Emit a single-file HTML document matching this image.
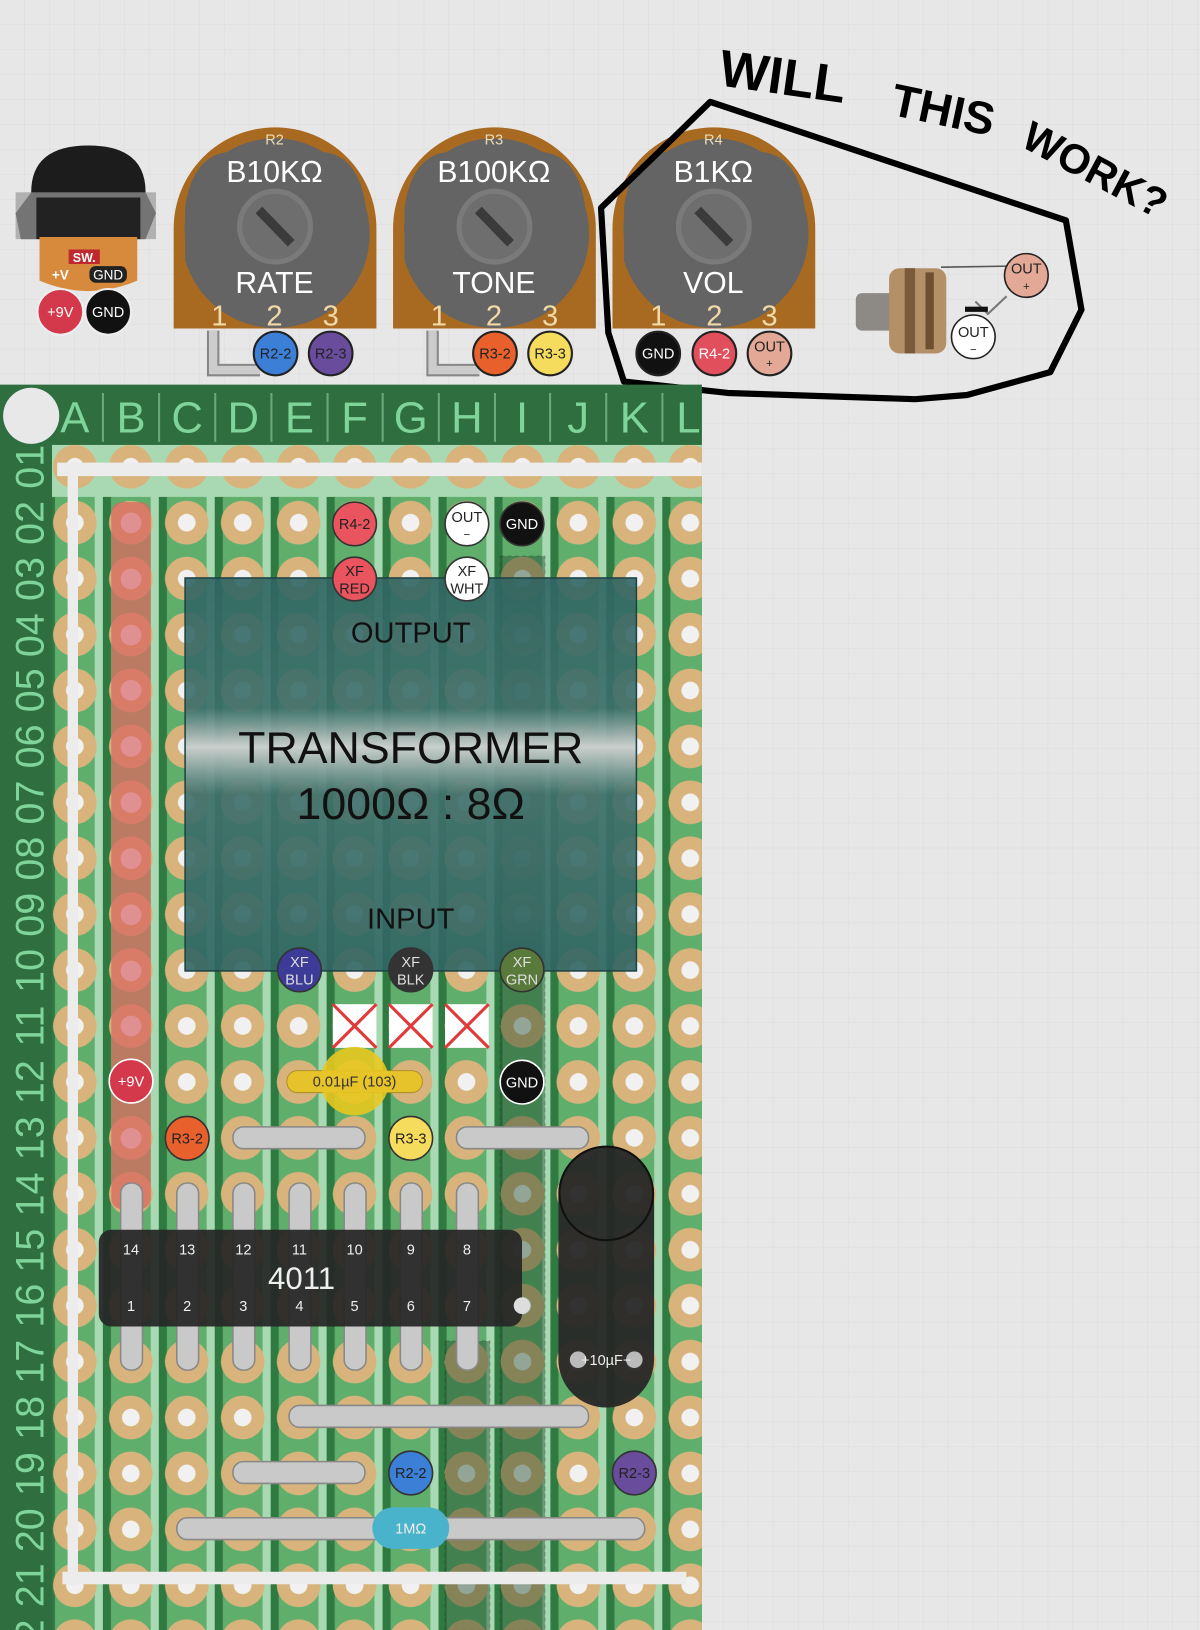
<!DOCTYPE html>
<html><head><meta charset="utf-8"><style>
html,body{margin:0;padding:0;background:#e6e6e6;}
svg{display:block;}
text{font-family:"Liberation Sans",sans-serif;}
</style></head><body>
<svg width="1200" height="1630" viewBox="0 0 1154 1568" preserveAspectRatio="none" xmlns="http://www.w3.org/2000/svg">
<defs>
<pattern id="grid" width="24" height="24" patternUnits="userSpaceOnUse"><rect width="24" height="24" fill="#e7e7e7"/><path d="M24 0V24H0" fill="none" stroke="#dcdcdc" stroke-width="1"/></pattern>
<pattern id="strips" x="45.1" y="0" width="53.8" height="20" patternUnits="userSpaceOnUse">
<rect width="53.8" height="20" fill="#a9d9b2"/><rect x="0" width="8" height="20" fill="#2f7a40"/><rect x="8" width="38" height="20" fill="#5fae6c"/></pattern>
<pattern id="holes" x="45.1" y="422.1" width="53.8" height="53.8" patternUnits="userSpaceOnUse">
<circle cx="26.9" cy="26.9" r="21" fill="#d8b47c"/><circle cx="26.9" cy="26.9" r="8.5" fill="#f1f1f1"/></pattern>
<linearGradient id="tf" x1="0" y1="0" x2="0" y2="1">
<stop offset="0" stop-color="#2f6463" stop-opacity=".9"/><stop offset=".33" stop-color="#3b6e6a" stop-opacity=".9"/><stop offset=".43" stop-color="#c9cfcc"/><stop offset=".55" stop-color="#3f706b" stop-opacity=".92"/><stop offset="1" stop-color="#2f6463" stop-opacity=".9"/></linearGradient>
</defs>
<rect width="1154" height="1568" fill="url(#grid)"/>

<!-- DC jack -->
<path d="M30 185 Q30 140 85 140 Q140 140 140 185 L150 205 L140 230 L20 230 L15 205Z" fill="#1c1c1c"/>
<rect x="15" y="185" width="135" height="45" fill="#9a9a9a" opacity=".7"/>
<rect x="35" y="190" width="100" height="40" fill="#222"/>
<path d="M38 228 L132 228 L132 270 Q85 290 38 270Z" fill="#d88a3c"/>
<rect x="66" y="240" width="30" height="14" fill="#c0282f"/><text x="81" y="252" font-size="12" font-weight="bold" fill="#fff" text-anchor="middle">SW.</text>
<text x="58" y="269" font-size="13" font-weight="bold" fill="#fff" text-anchor="middle">+V</text>
<rect x="86" y="256" width="36" height="16" rx="6" fill="#222"/><text x="104" y="269" font-size="13" fill="#fff" text-anchor="middle">GND</text>
<circle cx="58" cy="300" r="22" fill="#d3394a" stroke="#eee" stroke-width="2"/><text x="58" y="305" font-size="14" fill="#fff" text-anchor="middle">+9V</text>
<circle cx="104" cy="300" r="22" fill="#111" stroke="#eee" stroke-width="2"/><text x="104" y="305" font-size="14" fill="#fff" text-anchor="middle">GND</text>

<!-- Pots -->
<g id="pot">
<path d="M167 316 L167 220 A97.5 97.5 0 0 1 362 220 L362 316Z" fill="#a86a20"/>
<path d="M178 200 Q185 148 222 146 L308 146 Q345 148 352 200 A88 88 0 0 1 178 250Z" fill="#646464"/>
<circle cx="264.5" cy="220" r="87" fill="#646464"/>
<circle cx="264.5" cy="218" r="34" fill="#6e6e6e" stroke="#7a7a7a" stroke-width="5"/>
<line x1="249" y1="202" x2="280" y2="234" stroke="#3b3b3b" stroke-width="9"/>
</g>
<use href="#pot" x="211"/><use href="#pot" x="422"/>
<g fill="#fff" text-anchor="middle">
<text x="264" y="139" font-size="14" fill="#f0dcb0">R2</text><text x="264" y="175" font-size="29">B10KΩ</text><text x="264" y="282" font-size="29">RATE</text>
<text x="475" y="139" font-size="14" fill="#f0dcb0">R3</text><text x="475" y="175" font-size="29">B100KΩ</text><text x="475" y="282" font-size="29">TONE</text>
<text x="686" y="139" font-size="14" fill="#f0dcb0">R4</text><text x="686" y="175" font-size="29">B1KΩ</text><text x="686" y="282" font-size="29">VOL</text>
</g>
<g fill="#f2d9a8" font-size="28" text-anchor="middle">
<text x="211" y="313">1</text><text x="264" y="313">2</text><text x="318" y="313">3</text>
<text x="422" y="313">1</text><text x="475" y="313">2</text><text x="529" y="313">3</text>
<text x="633" y="313">1</text><text x="687" y="313">2</text><text x="740" y="313">3</text>
</g>
<path d="M205 318 V356 H250" fill="none" stroke="#888" stroke-width="12"/><path d="M205 318 V356 H250" fill="none" stroke="#ccc" stroke-width="8"/>
<path d="M416 318 V356 H461" fill="none" stroke="#888" stroke-width="12"/><path d="M416 318 V356 H461" fill="none" stroke="#ccc" stroke-width="8"/>
<g stroke="#222" stroke-width="2" font-size="14" text-anchor="middle">
<circle cx="265" cy="340" r="21" fill="#3b7fd6"/><circle cx="318" cy="340" r="21" fill="#6a4c9c"/>
<circle cx="476" cy="340" r="21" fill="#e8602c"/><circle cx="529" cy="340" r="21" fill="#f6dc5c"/>
<circle cx="633" cy="340" r="21" fill="#111"/><circle cx="687" cy="340" r="21" fill="#e24f5c"/><circle cx="740" cy="340" r="21" fill="#e3a996"/>
</g>
<g font-size="14" text-anchor="middle" fill="#222">
<text x="265" y="345">R2-2</text><text x="318" y="345">R2-3</text><text x="476" y="345">R3-2</text><text x="529" y="345">R3-3</text>
<text x="633" y="345" fill="#fff">GND</text><text x="687" y="345" fill="#fff">R4-2</text><text x="740" y="338">OUT</text><text x="740" y="353" font-size="11">+</text>
</g>

<!-- output jack -->
<rect x="823" y="282" width="40" height="36" rx="6" fill="#8d8a86"/>
<rect x="855" y="258" width="55" height="82" rx="10" fill="#b49068"/>
<rect x="870" y="258" width="10" height="82" fill="#7a5a3a"/><rect x="890" y="262" width="8" height="74" fill="#6e5030"/>
<line x1="905" y1="257" x2="970" y2="256" stroke="#555" stroke-width="1.5"/>
<path d="M938 290 L950 302 L968 285" fill="none" stroke="#777" stroke-width="2"/>
<rect x="928" y="295" width="22" height="5" fill="#111"/>
<circle cx="987" cy="265" r="21" fill="#e3a996" stroke="#222" stroke-width="1.5"/><text x="987" y="263" font-size="14" fill="#222" text-anchor="middle">OUT</text><text x="987" y="279" font-size="11" fill="#222" text-anchor="middle">+</text>
<circle cx="936" cy="324" r="21" fill="#fff" stroke="#222" stroke-width="1.5"/><text x="936" y="324" font-size="14" fill="#222" text-anchor="middle">OUT</text><text x="936" y="340" font-size="11" fill="#222" text-anchor="middle">−</text>

<!-- scribble -->
<path d="M683 98 L1025 212 L1040 298 L1010 358 L930 380 L880 384 L700 378 L600 367 L585 320 L578 200 L640 140 Z" fill="none" stroke="#000" stroke-width="6" stroke-linejoin="round"/>
<g font-family="'Liberation Sans',sans-serif" font-weight="bold" fill="#000">
<text x="690" y="82" font-size="50" transform="rotate(8 690 82)">WILL</text>
<text x="855" y="110" font-size="44" transform="rotate(12 855 110)">THIS</text>
<text x="980" y="140" font-size="40" transform="rotate(28 980 140)">WORK?</text>
</g>

<!-- Board -->
<rect x="0" y="370" width="675" height="1198" fill="#2f6e3e"/>
<rect x="50" y="428" width="625" height="1140" fill="#a9d9b2"/>
<rect x="50" y="478" width="625" height="1090" fill="url(#strips)"/>
<rect x="50" y="428" width="625" height="1140" fill="url(#holes)"/>
<rect x="107" y="483" width="38" height="680" rx="10" fill="#d96a60" opacity=".75"/>
<g fill="#e09090"><circle cx="126" cy="503" r="10"/><circle cx="126" cy="557" r="10"/><circle cx="126" cy="611" r="10"/><circle cx="126" cy="664" r="10"/><circle cx="126" cy="718" r="10"/><circle cx="126" cy="772" r="10"/><circle cx="126" cy="826" r="10"/><circle cx="126" cy="880" r="10"/><circle cx="126" cy="934" r="10"/><circle cx="126" cy="987" r="10"/><circle cx="126" cy="1095" r="10"/></g>
<rect x="481" y="535" width="43" height="1033" fill="#234a2c" opacity=".45" stroke="#1d3a22" stroke-dasharray="4 3"/>
<rect x="428" y="1290" width="43" height="278" fill="#234a2c" opacity=".45" stroke="#1d3a22" stroke-dasharray="4 3"/>
<rect x="55" y="445" width="620" height="13" fill="#ececec"/>
<rect x="65" y="445" width="10" height="1080" fill="#ececec"/>
<rect x="60" y="1512" width="600" height="12" fill="#ececec"/>
<circle cx="30" cy="400" r="27" fill="#e8e8e8"/>
<g fill="#7fd49a" font-size="42" text-anchor="middle">
<text x="72" y="416">A</text><text x="126" y="416">B</text><text x="180" y="416">C</text><text x="234" y="416">D</text><text x="288" y="416">E</text><text x="341" y="416">F</text><text x="395" y="416">G</text><text x="449" y="416">H</text><text x="502" y="416">I</text><text x="556" y="416">J</text><text x="610" y="416">K</text><text x="662" y="416">L</text>
</g>
<g stroke="#6ca87a" stroke-width="2"><line x1="99" y1="378" x2="99" y2="425"/><line x1="153" y1="378" x2="153" y2="425"/><line x1="207" y1="378" x2="207" y2="425"/><line x1="261" y1="378" x2="261" y2="425"/><line x1="315" y1="378" x2="315" y2="425"/><line x1="368" y1="378" x2="368" y2="425"/><line x1="422" y1="378" x2="422" y2="425"/><line x1="476" y1="378" x2="476" y2="425"/><line x1="529" y1="378" x2="529" y2="425"/><line x1="583" y1="378" x2="583" y2="425"/><line x1="637" y1="378" x2="637" y2="425"/></g>
<g fill="#7fd49a" font-size="38" text-anchor="middle">
<text transform="translate(42 449) rotate(-90)">01</text><text transform="translate(42 503) rotate(-90)">02</text><text transform="translate(42 557) rotate(-90)">03</text><text transform="translate(42 611) rotate(-90)">04</text><text transform="translate(42 664) rotate(-90)">05</text><text transform="translate(42 718) rotate(-90)">06</text><text transform="translate(42 772) rotate(-90)">07</text><text transform="translate(42 826) rotate(-90)">08</text><text transform="translate(42 880) rotate(-90)">09</text><text transform="translate(42 934) rotate(-90)">10</text><text transform="translate(42 987) rotate(-90)">11</text><text transform="translate(42 1041) rotate(-90)">12</text><text transform="translate(42 1095) rotate(-90)">13</text><text transform="translate(42 1149) rotate(-90)">14</text><text transform="translate(42 1203) rotate(-90)">15</text><text transform="translate(42 1256) rotate(-90)">16</text><text transform="translate(42 1310) rotate(-90)">17</text><text transform="translate(42 1364) rotate(-90)">18</text><text transform="translate(42 1418) rotate(-90)">19</text><text transform="translate(42 1472) rotate(-90)">20</text><text transform="translate(42 1525) rotate(-90)">21</text><text transform="translate(42 1579) rotate(-90)">22</text>
</g>

<rect x="178" y="556" width="434" height="378" fill="url(#tf)" stroke="#1f4444" stroke-width="1.5"/>
<g fill="#111" text-anchor="middle">
<text x="395" y="618" font-size="28">OUTPUT</text>
<text x="395" y="734" font-size="43">TRANSFORMER</text>
<text x="395" y="788" font-size="43">1000Ω : 8Ω</text>
<text x="395" y="893" font-size="28">INPUT</text>
</g>

<g stroke="#333" stroke-width="1.5">
<circle cx="341" cy="504" r="21" fill="#e9545f"/><circle cx="449" cy="504" r="21" fill="#fff"/><circle cx="502" cy="504" r="21" fill="#111"/>
<circle cx="341" cy="557" r="21" fill="#e9545f"/><circle cx="449" cy="557" r="21" fill="#fff"/>
<circle cx="288" cy="933" r="21" fill="#3c3c98"/><circle cx="395" cy="933" r="21" fill="#333"/><circle cx="502" cy="933" r="21" fill="#5a7a3c"/>
<circle cx="126" cy="1040" r="21" fill="#d3394a" stroke="#fff"/><circle cx="502" cy="1041" r="21" fill="#111" stroke="#fff"/>
<circle cx="180" cy="1095" r="21" fill="#e8602c"/><circle cx="395" cy="1095" r="21" fill="#f6dc5c"/>
<circle cx="395" cy="1417" r="21" fill="#3b7fd6"/><circle cx="610" cy="1417" r="21" fill="#6a4c9c"/>
</g>
<g font-size="14" text-anchor="middle" fill="#222">
<text x="341" y="509">R4-2</text><text x="449" y="502">OUT</text><text x="449" y="518" font-size="11">−</text><text x="502" y="509" fill="#fff">GND</text>
<text x="341" y="554">XF</text><text x="341" y="571">RED</text><text x="449" y="554" >XF</text><text x="449" y="571">WHT</text>
<g fill="#ddd"><text x="288" y="930">XF</text><text x="288" y="947">BLU</text><text x="395" y="930">XF</text><text x="395" y="947">BLK</text><text x="502" y="930">XF</text><text x="502" y="947">GRN</text></g>
<text x="126" y="1045" fill="#fff">+9V</text><text x="502" y="1046" fill="#fff">GND</text>
<text x="180" y="1100">R3-2</text><text x="395" y="1100">R3-3</text>
<text x="395" y="1422">R2-2</text><text x="610" y="1422">R2-3</text>
</g>
<g stroke="#e03a3a" stroke-width="3">
<rect x="320" y="966" width="42" height="42" fill="#fff" stroke="none"/><line x1="320" y1="966" x2="362" y2="1008"/><line x1="362" y1="966" x2="320" y2="1008"/>
<rect x="374" y="966" width="42" height="42" fill="#fff" stroke="none"/><line x1="374" y1="966" x2="416" y2="1008"/><line x1="416" y1="966" x2="374" y2="1008"/>
<rect x="428" y="966" width="42" height="42" fill="#fff" stroke="none"/><line x1="428" y1="966" x2="470" y2="1008"/><line x1="470" y1="966" x2="428" y2="1008"/>
</g>
<rect x="276" y="1030" width="130" height="21" rx="10" fill="#e6c22c" stroke="#9a8020"/>
<circle cx="341" cy="1040" r="33" fill="#e8c820" opacity=".9"/>
<rect x="276" y="1030" width="130" height="21" rx="10" fill="#e6c22c" opacity=".6"/>
<text x="341" y="1045" font-size="14" fill="#333" text-anchor="middle">0.01µF (103)</text>
<g fill="#c9c9c9" stroke="#888" stroke-width="1.5">
<rect x="224" y="1084" width="127" height="21" rx="10"/><rect x="439" y="1084" width="127" height="21" rx="10"/>
<rect x="116" y="1138" width="21" height="180" rx="10"/><rect x="170" y="1138" width="21" height="180" rx="10"/><rect x="224" y="1138" width="21" height="180" rx="10"/><rect x="278" y="1138" width="21" height="180" rx="10"/><rect x="331" y="1138" width="21" height="180" rx="10"/><rect x="385" y="1138" width="21" height="180" rx="10"/><rect x="439" y="1138" width="21" height="180" rx="10"/>
<rect x="278" y="1352" width="288" height="21" rx="10"/>
<rect x="224" y="1406" width="127" height="21" rx="10"/>
<rect x="170" y="1460" width="450" height="21" rx="10"/>
</g>
<rect x="95" y="1183" width="407" height="93" rx="12" fill="#262626" opacity=".93"/>
<circle cx="502" cy="1256" r="8" fill="#ddd"/>
<g fill="#eee" font-size="14" text-anchor="middle">
<text x="126" y="1207">14</text><text x="180" y="1207">13</text><text x="234" y="1207">12</text><text x="288" y="1207">11</text><text x="341" y="1207">10</text><text x="395" y="1207">9</text><text x="449" y="1207">8</text>
<text x="126" y="1261">1</text><text x="180" y="1261">2</text><text x="234" y="1261">3</text><text x="288" y="1261">4</text><text x="341" y="1261">5</text><text x="395" y="1261">6</text><text x="449" y="1261">7</text>
<text x="290" y="1240" font-size="30">4011</text>
</g>
<rect x="537" y="1102" width="92" height="252" rx="46" fill="#272727" opacity=".95"/>
<circle cx="583" cy="1148" r="45" fill="none" stroke="#111" stroke-width="2"/>
<circle cx="556" cy="1308" r="8" fill="#bbb"/><circle cx="610" cy="1308" r="8" fill="#bbb"/>
<text x="583" y="1313" font-size="14" fill="#eee" text-anchor="middle">+10µF−</text>
<rect x="358" y="1450" width="74" height="40" rx="20" fill="#4ab3cc"/>
<text x="395" y="1475" font-size="14" fill="#eee" text-anchor="middle">1MΩ</text>
</svg>
</body></html>
